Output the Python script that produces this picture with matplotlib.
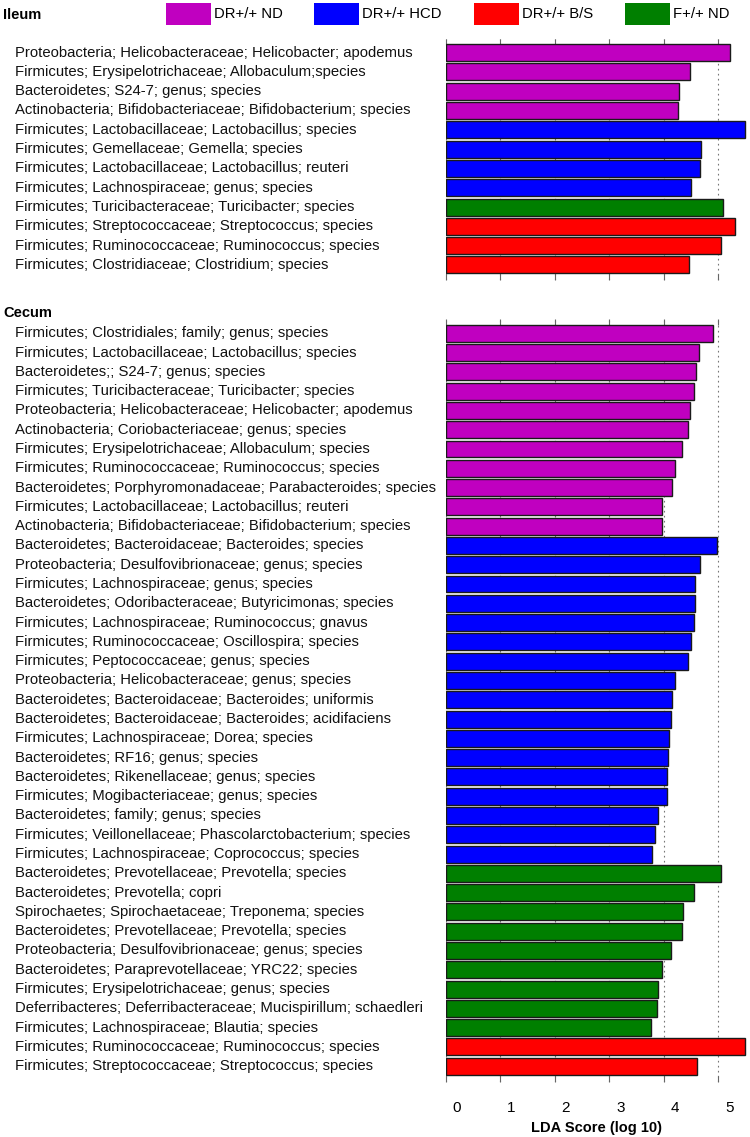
import matplotlib
matplotlib.use("Agg")
import matplotlib.pyplot as plt
import matplotlib.transforms as mtransforms
from matplotlib.patches import Rectangle

plt.rcParams['font.family'] = ['Liberation Sans', 'DejaVu Sans']

# group names and colours
groups = ['DR+/+ ND', 'DR+/+ HCD', 'DR+/+ B/S', 'F+/+ ND']
group_colors = {'DR+/+ ND': '#C000C0', 'DR+/+ HCD': '#0000FF',
                'DR+/+ B/S': '#FF0000', 'F+/+ ND': '#007F00'}

# Ileum
ileum_taxa = [
    'Proteobacteria; Helicobacteraceae; Helicobacter; apodemus',
    'Firmicutes; Erysipelotrichaceae; Allobaculum;species',
    'Bacteroidetes; S24-7; genus; species',
    'Actinobacteria; Bifidobacteriaceae; Bifidobacterium; species',
    'Firmicutes; Lactobacillaceae; Lactobacillus; species',
    'Firmicutes; Gemellaceae; Gemella; species',
    'Firmicutes; Lactobacillaceae; Lactobacillus; reuteri',
    'Firmicutes; Lachnospiraceae; genus; species',
    'Firmicutes; Turicibacteraceae; Turicibacter; species',
    'Firmicutes; Streptococcaceae; Streptococcus; species',
    'Firmicutes; Ruminococcaceae; Ruminococcus; species',
    'Firmicutes; Clostridiaceae; Clostridium; species',
]
ileum_lda = [5.21, 4.48, 4.28, 4.27, 5.50, 4.68, 4.67, 4.50, 5.09, 5.31, 5.06, 4.46]
ileum_group = ['DR+/+ ND'] * 4 + ['DR+/+ HCD'] * 4 + ['F+/+ ND'] + ['DR+/+ B/S'] * 3

# Cecum
cecum_taxa = [
    'Firmicutes; Clostridiales; family; genus; species',
    'Firmicutes; Lactobacillaceae; Lactobacillus; species',
    'Bacteroidetes;; S24-7; genus; species',
    'Firmicutes; Turicibacteraceae; Turicibacter; species',
    'Proteobacteria; Helicobacteraceae; Helicobacter; apodemus',
    'Actinobacteria; Coriobacteriaceae; genus; species',
    'Firmicutes; Erysipelotrichaceae; Allobaculum; species',
    'Firmicutes; Ruminococcaceae; Ruminococcus; species',
    'Bacteroidetes; Porphyromonadaceae; Parabacteroides; species',
    'Firmicutes; Lactobacillaceae; Lactobacillus; reuteri',
    'Actinobacteria; Bifidobacteriaceae; Bifidobacterium; species',
    'Bacteroidetes; Bacteroidaceae; Bacteroides; species',
    'Proteobacteria; Desulfovibrionaceae; genus; species',
    'Firmicutes; Lachnospiraceae; genus; species',
    'Bacteroidetes; Odoribacteraceae; Butyricimonas; species',
    'Firmicutes; Lachnospiraceae; Ruminococcus; gnavus',
    'Firmicutes; Ruminococcaceae; Oscillospira; species',
    'Firmicutes; Peptococcaceae; genus; species',
    'Proteobacteria; Helicobacteraceae; genus; species',
    'Bacteroidetes; Bacteroidaceae; Bacteroides; uniformis',
    'Bacteroidetes; Bacteroidaceae; Bacteroides; acidifaciens',
    'Firmicutes; Lachnospiraceae; Dorea; species',
    'Bacteroidetes; RF16; genus; species',
    'Bacteroidetes; Rikenellaceae; genus; species',
    'Firmicutes; Mogibacteriaceae; genus; species',
    'Bacteroidetes; family; genus; species',
    'Firmicutes; Veillonellaceae; Phascolarctobacterium; species',
    'Firmicutes; Lachnospiraceae; Coprococcus; species',
    'Bacteroidetes; Prevotellaceae; Prevotella; species',
    'Bacteroidetes; Prevotella; copri',
    'Spirochaetes; Spirochaetaceae; Treponema; species',
    'Bacteroidetes; Prevotellaceae; Prevotella; species',
    'Proteobacteria; Desulfovibrionaceae; genus; species',
    'Bacteroidetes; Paraprevotellaceae; YRC22; species',
    'Firmicutes; Erysipelotrichaceae; genus; species',
    'Deferribacteres; Deferribacteraceae; Mucispirillum; schaedleri',
    'Firmicutes; Lachnospiraceae; Blautia; species',
    'Firmicutes; Ruminococcaceae; Ruminococcus; species',
    'Firmicutes; Streptococcaceae; Streptococcus; species',
]
cecum_lda = [4.90, 4.64, 4.59, 4.55, 4.49, 4.45, 4.33, 4.20, 4.16, 3.97, 3.96,
             4.98, 4.66, 4.57, 4.57, 4.55, 4.51, 4.45, 4.21, 4.16, 4.14, 4.10,
             4.08, 4.06, 4.06, 3.90, 3.84, 3.78,
             5.06, 4.56, 4.35, 4.34, 4.13, 3.96, 3.90, 3.88, 3.77,
             5.50, 4.61]
cecum_group = ['DR+/+ ND'] * 11 + ['DR+/+ HCD'] * 17 + ['F+/+ ND'] * 9 + ['DR+/+ B/S'] * 2

xticks = [0, 1, 2, 3, 4, 5]

W, H = 750, 1137
fig = plt.figure(figsize=(W / 100, H / 100), dpi=100)


def px_axes(x0, y0, x1, y1):
    """ axes from pixel box (top-left origin) """
    return fig.add_axes([x0 / W, 1 - y1 / H, (x1 - x0) / W, (y1 - y0) / H])


def draw_panel(ax, taxa, lda, grp, top_pad, bot_pad):
    n = len(taxa)
    ypos = list(range(n))
    colors = [group_colors[g] for g in grp]
    for x in xticks:
        ax.axvline(x, color='#777777', linestyle=(0, (1.5, 3)), linewidth=0.8, zorder=0)
    ax.barh(ypos, lda, height=0.88, color=colors, edgecolor='#1a1a1a',
            linewidth=1.0, zorder=2)
    ax.set_xlim(0, 5.53)
    ax.set_ylim(n - 1 + bot_pad, -top_pad)
    ax.set_yticks([])
    ax.set_xticks(xticks)
    ax.tick_params(axis='x', which='both', top=True, bottom=True, direction='in',
                   length=4, width=0.8, color='#666666', labelbottom=False)
    for s in ax.spines.values():
        s.set_visible(False)
    trans = mtransforms.blended_transform_factory(fig.transFigure, ax.transData)
    for i, t in enumerate(taxa):
        ax.text(15 / W, i, t, transform=trans, ha='left', va='center',
                fontsize=10.75, color='#111111')


ax1 = px_axes(446, 39, 747, 280)
draw_panel(ax1, ileum_taxa, ileum_lda, ileum_group, 0.70, 0.78)

ax2 = px_axes(446, 319, 747, 1082)
draw_panel(ax2, cecum_taxa, cecum_lda, cecum_group, 0.74, 0.82)

# bottom tick labels (shifted right as in the original)
ax2.tick_params(axis='x', labelbottom=True, labelsize=11, pad=14)
offset = mtransforms.ScaledTranslation(0.11, 0, fig.dpi_scale_trans)
for lab in ax2.get_xticklabels():
    lab.set_transform(lab.get_transform() + offset)
ax2.set_xlabel('LDA Score (log 10)', fontsize=10.5, fontweight='bold', labelpad=4)

fig.text(3 / W, 1 - 15 / H, 'Ileum', fontsize=10.5, fontweight='bold', ha='left', va='center')
fig.text(3 / W, 1 - 313 / H, 'Cecum', fontsize=10.5, fontweight='bold', ha='left', va='center')

# legend boxes across the top
legend_x = [166, 314, 474, 625]
for g, lx in zip(groups, legend_x):
    fig.patches.append(Rectangle((lx / W, 1 - 25 / H), 45 / W, 22 / H,
                                 transform=fig.transFigure, facecolor=group_colors[g],
                                 edgecolor='none'))
    fig.text((lx + 48) / W, 1 - 13.5 / H, g, fontsize=10.7, ha='left', va='center')

fig.savefig('out.png', dpi=100)
